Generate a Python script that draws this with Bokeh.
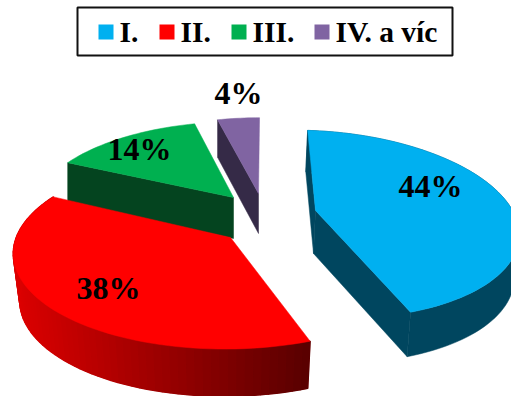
import numpy as np
from bokeh.core.properties import value
from bokeh.embed import file_html
from bokeh.models import Range1d
from bokeh.plotting import figure
from bokeh.resources import INLINE

# Shares of each category, in percent
categories = ["I.", "II.", "III.", "IV. a víc"]
shares = [44, 38, 14, 4]
colors = ["#00B0F0", "#FF0000", "#00B050", "#8064A2"]

# Exploded 3D pie geometry, one entry per slice
apex_x = [315, 230, 233, 258]
apex_y = [210, 237, 197, 193]
radius_x = [200, 213, 197, 193]
radius_y = [92, 95, 87, 87]
skew_x = [-9, 10.5, 4.7, 1.2]
skew_y = [6, 3, 0, 0]
depth = [43, 47, 41, 40]
bottom_scale = [0.985, 0.97, 1.0, 1.0]
bottom_shift = [-2, 0, 0, 0]
wall_near = ["#00465F", "#DC0000", "#04441F", "#352A47"]
wall_far = ["#00465F", "#580000", "#04441F", "#352A47"]
rim_walls = [True, True, False, False]
radial_walls = [(True, True), (False, False), (True, False), (True, False)]
PERSPECTIVE = 0.148
DEPTH_PERSPECTIVE = 0.07


def project(i, theta):
    u, v = np.sin(theta), np.cos(theta)
    w = 1 + PERSPECTIVE * v
    dx = (radius_x[i] * u + skew_x[i] * v) / w
    dy = (-radius_y[i] * v + skew_y[i] * u) / w
    return dx, dy


def top_and_bottom(i, theta):
    dx, dy = project(i, theta)
    v = np.cos(theta)
    d = depth[i] / (1 + DEPTH_PERSPECTIVE * v)
    tx, ty = apex_x[i] + dx, apex_y[i] + dy
    bx = apex_x[i] + bottom_scale[i] * dx + bottom_shift[i]
    by = apex_y[i] + bottom_scale[i] * dy + d
    return tx, ty, bx, by


def mix(a, b, t):
    ca = [int(a[k:k + 2], 16) for k in (1, 3, 5)]
    cb = [int(b[k:k + 2], 16) for k in (1, 3, 5)]
    return "#%02x%02x%02x" % tuple(int(round(x + (y - x) * t)) for x, y in zip(ca, cb))


p = figure(width=511, height=396, output_backend="svg", toolbar_location=None,
           x_range=Range1d(0, 511), y_range=Range1d(396, 0), min_border=0,
           outline_line_color=None)
p.axis.visible = False
p.grid.visible = False
p.background_fill_color = "white"
p.border_fill_color = "white"

# Slice boundaries, running clockwise from the top
edges = 2 * np.pi * np.cumsum([0] + shares) / sum(shares)

# Painted back to front so nearer slices cover the walls behind them
for i in [3, 2, 0, 1]:
    a0, a1 = edges[i], edges[i + 1]
    thetas = np.linspace(a0, a1, max(12, int((a1 - a0) * 30)))
    tx, ty, bx, by = top_and_bottom(i, thetas)
    ax, ay = apex_x[i], apex_y[i]
    abx, aby = ax + bottom_shift[i], ay + depth[i]

    if rim_walls[i]:
        # One solid underlay for the whole rim wall, then shaded strips on top of it
        p.patch(np.r_[tx, bx[::-1]], np.r_[ty, by[::-1]], fill_color=wall_near[i],
                line_color=wall_near[i], line_width=0.5)
        if wall_near[i] != wall_far[i]:
            xs, ys, cs = [], [], []
            span = max(tx.max() - tx.min(), 1)
            for k in range(len(thetas) - 1):
                xs.append([tx[k], tx[k + 1], bx[k + 1], bx[k]])
                ys.append([ty[k], ty[k + 1], by[k + 1], by[k]])
                cs.append(mix(wall_near[i], wall_far[i], ((tx[k] + tx[k + 1]) / 2 - tx.min()) / span))
            p.patches(xs, ys, fill_color=cs, line_color=cs, line_width=1.5)
    start_wall, end_wall = radial_walls[i]
    if start_wall:
        p.patch([ax, tx[0], bx[0], abx], [ay, ty[0], by[0], aby], fill_color=wall_near[i],
                line_color=wall_near[i], line_width=0.5)
    if end_wall:
        p.patch([ax, tx[-1], bx[-1], abx], [ay, ty[-1], by[-1], aby], fill_color=wall_near[i],
                line_color=wall_near[i], line_width=0.5)

    p.patch(np.r_[ax, tx], np.r_[ay, ty], fill_color=colors[i], line_color=colors[i], line_width=0.5)

# Percentage labels
label_x = [430, 108, 139, 238]
label_y = [185, 287, 148, 92]
p.text(label_x, label_y, text=[f"{s}%" for s in shares],
       text_font=value("Liberation Serif"), text_font_style="bold", text_font_size="32px",
       text_color="black", text_align="center", text_baseline="middle")

# Legend strip across the top
p.quad(left=[77], right=[452], top=[7], bottom=[55], fill_color="white",
       line_color="#111111", line_width=2)
swatch_x = [98, 159, 231, 314]
p.quad(left=swatch_x, right=[x + 15 for x in swatch_x], top=[24] * 4, bottom=[39] * 4,
       fill_color=colors, line_color=None)
p.text([x + 21 for x in swatch_x], [31] * 4, text=categories,
       text_font=value("Liberation Serif"), text_font_style="bold", text_font_size="29.5px",
       text_color="black", text_align="left", text_baseline="middle")

open("out.html", "w").write(file_html(p, INLINE))
